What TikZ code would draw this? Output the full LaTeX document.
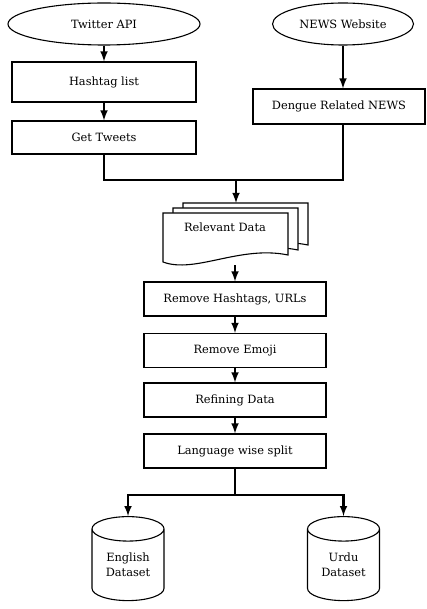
\documentclass[tikz,border=0pt]{standalone}
\usepackage{fontspec}
\setmainfont{DejaVu Serif}
\usetikzlibrary{shapes.geometric}
\begin{document}
\begin{tikzpicture}[x=1pt,y=-1pt,
  every node/.style={font=\fontsize{11.4}{15}\selectfont},
  box/.style={draw,line width=1.1pt,minimum width=184pt,minimum height=34pt,inner sep=0pt},
  src/.style={draw,ellipse,line width=1.1pt,inner sep=0pt,minimum height=42pt},
  db/.style={draw,cylinder,shape border rotate=90,aspect=0.55,line width=1.1pt,
    minimum width=72pt,minimum height=84pt,inner sep=0pt,align=center},
  flow/.style={line width=2.4pt}]
\useasboundingbox (0,0) rectangle (426,609);
%
\node[src,minimum width=192pt] (twitter) at (104,24) {Twitter API};
\node[src,minimum width=141pt] (news) at (343,24) {NEWS Website};
\node[box,minimum height=40pt] (hash) at (104,82) {Hashtag list};
\node[box,minimum height=33pt] (tweets) at (104,137.5) {Get Tweets};
\node[box,minimum width=172pt,minimum height=35pt] (dengue) at (339,106.5) {Dengue Related NEWS};
%
\foreach \dx/\dy in {20/-10,10/-5,0/0}
  \draw[line width=1.1pt,fill=white,shift={(\dx,\dy)}] (163,213) -- (288,213) -- (288,255) .. controls (240,245) and (195,274) .. (163,262) -- cycle;
\node (data) at (225,227) {Relevant Data};
\coordinate (stacktop) at (236,203);
\coordinate (stackbot) at (235,265);
%
\node[box,minimum width=182pt] (clean) at (235,299) {Remove Hashtags, URLs};
\node[box,minimum width=182pt] (emoji) at (235,350.5) {Remove Emoji};
\node[box,minimum width=182pt] (refine) at (235,400) {Refining Data};
\node[box,minimum width=182pt] (split) at (235,451) {Language wise split};
\node[db] (english) at (128,565) {English\\Dataset};
\node[db] (urdu) at (343.5,565) {Urdu\\Dataset};
%
\coordinate (merge) at (236,180);
\coordinate (fork) at (235,495);
\draw[flow,-latex] (twitter) -- (hash);
\draw[flow,-latex] (hash) -- (tweets);
\draw[flow,-latex] (news.south) -- (dengue.north -| news.south);
\draw[flow] (tweets.south) |- (merge) -| (dengue.south -| news.south);
\draw[flow,-latex] (merge) -- (stacktop);
\draw[flow,-latex] (stackbot) -- (clean);
\draw[flow,-latex] (clean) -- (emoji);
\draw[flow,-latex] (emoji) -- (refine);
\draw[flow,-latex] (refine) -- (split);
\draw[flow] (split) -- (fork);
\draw[flow,-latex] (fork) -| (english.top);
\draw[flow,-latex] (fork) -| (urdu.top);
\end{tikzpicture}
\end{document}
